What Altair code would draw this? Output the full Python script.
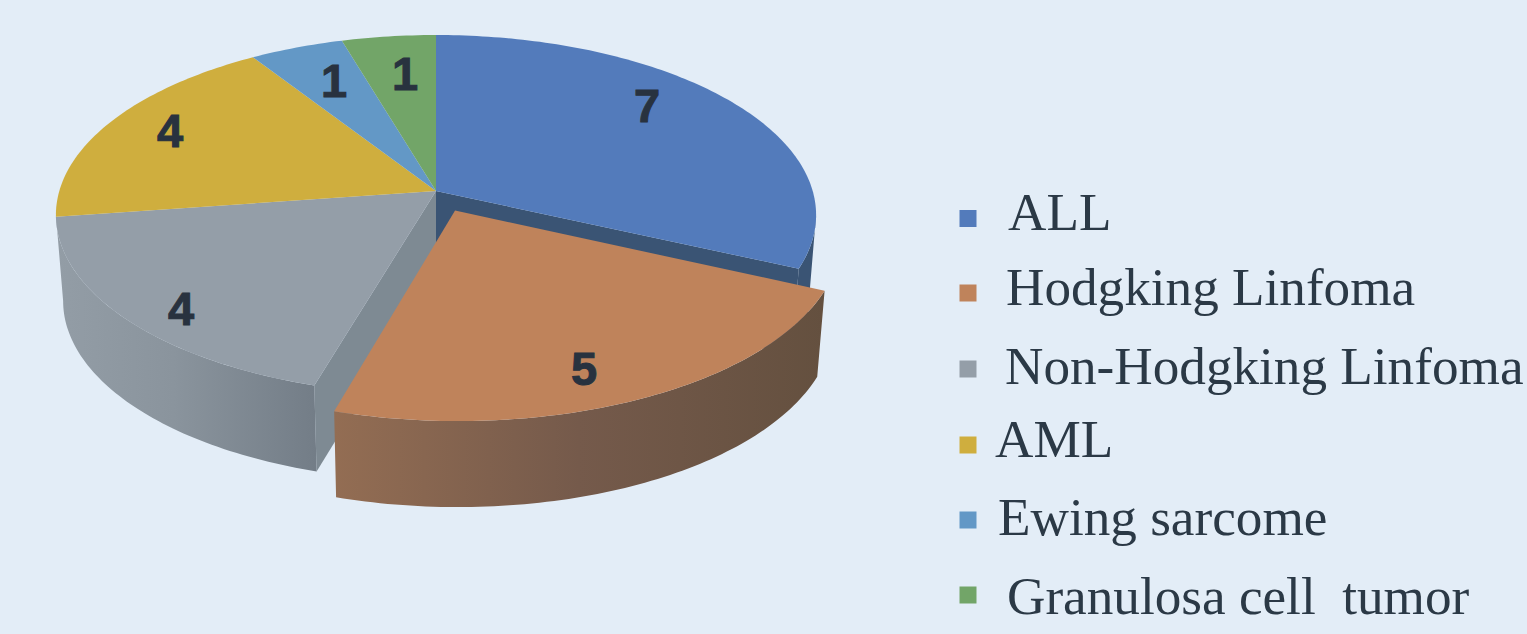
import math

import altair as alt
import pandas as pd

# Slice data
categories = ["ALL", "Hodgking Linfoma", "Non-Hodgking Linfoma", "AML", "Ewing sarcome", "Granulosa cell\u00a0 tumor"]
counts = [7, 5, 4, 4, 1, 1]
top_colors = ["#537BBB", "#BF835B", "#949EA8", "#CFAE3E", "#6398C6", "#72A568"]
pulled_out = [0, 0.12, 0, 0, 0, 0]

# Page layout
WIDTH, HEIGHT = 1527, 634
BACKGROUND = "#E3EDF7"
INK = "#2B3946"
VALUE_INK = "#28323F"

# Tilted-disc projection of the pie plane onto the page
CX, CY = 436, 191
RX = 376.7
TILT_A, TILT_C = -151.3, 0.1333
DEPTH = 86
DEPTH_SHRINK = 0.981

# Value label centres and legend rows on the page
value_label_x = [647, 584, 181, 170, 334, 405]
value_label_y = [108, 371, 311, 133, 83, 76]
legend_text_x = [1008, 1006, 1005, 995, 998, 1007]
legend_text_y = [230, 305, 384, 457, 535, 614]
legend_key_y = [218.5, 293, 369, 445, 520, 595]
LEGEND_KEY_X = 968

X_CHANNEL = alt.X("x:Q", scale=alt.Scale(domain=[0, WIDTH], nice=False, zero=False), axis=None)
Y_CHANNEL = alt.Y("y:Q", scale=alt.Scale(domain=[HEIGHT, 0], nice=False, zero=False), axis=None)

# Angles where the disc outline is widest; the side wall silhouette starts there
WIDEST_OFFSET = math.degrees(math.asin(TILT_C))
RIGHT_SILHOUETTE = 90 + WIDEST_OFFSET
LEFT_SILHOUETTE = 270 - WIDEST_OFFSET


def project(u, v, lower=False):
    den = TILT_C * v + 1
    x = RX * u / den
    y = (TILT_A * v + CY) / den
    if lower:
        return CX + x * DEPTH_SHRINK, y + DEPTH
    return CX + x, y


def rim(start, end, shift=(0.0, 0.0), lower=False, step=1.0):
    n = max(2, int(abs(end - start) / step) + 1)
    pts = []
    for i in range(n):
        a = math.radians(start + (end - start) * i / (n - 1))
        pts.append(project(math.sin(a) + shift[0], math.cos(a) + shift[1], lower))
    return pts


def polygon(points, fill):
    frame = pd.DataFrame(
        {"x": [p[0] for p in points], "y": [p[1] for p in points], "i": range(len(points))}
    )
    return (
        alt.Chart(frame)
        .mark_line(fill=fill, stroke="transparent", strokeWidth=0, interpolate="linear")
        .encode(x=X_CHANNEL, y=Y_CHANNEL, order="i:Q")
    )


def side_gradient(stops):
    return alt.Gradient(
        gradient="linear",
        x1=0, x2=1, y1=0, y2=0,
        stops=[alt.GradientStop(offset=o, color=c) for o, c in stops],
    )


total = sum(counts)
edges = [0.0]
for c in counts:
    edges.append(edges[-1] + 360.0 * c / total)

shifts = []
for k, d in enumerate(pulled_out):
    mid = math.radians((edges[k] + edges[k + 1]) / 2)
    shifts.append((d * math.sin(mid), d * math.cos(mid)))

layers = []

# Dark blue walls behind the pulled-out slice
a_end = math.radians(edges[1])
spoke = (math.sin(a_end), math.cos(a_end))
layers.append(polygon(
    [project(0, 0), project(*spoke), project(*spoke, lower=True), project(0, 0, lower=True)],
    "#3A5474",
))
layers.append(polygon(
    rim(RIGHT_SILHOUETTE, edges[1]) + rim(edges[1], RIGHT_SILHOUETTE, lower=True),
    "#3A5474",
))

# Inner wall of the grey slice
a_gray = math.radians(edges[2])
gray_spoke = (math.sin(a_gray), math.cos(a_gray))
layers.append(polygon(
    [project(0, 0), project(*gray_spoke), project(*gray_spoke, lower=True), project(0, 0, lower=True)],
    "#7E8A93",
))

# Outer wall of the grey slice
layers.append(polygon(
    rim(edges[2], LEFT_SILHOUETTE) + rim(LEFT_SILHOUETTE, edges[2], lower=True),
    side_gradient([(0, "#939DA6"), (0.45, "#8A949D"), (1, "#737D87")]),
))

# Flat tops of the slices that stay in place
for k in [0, 2, 3, 4, 5]:
    layers.append(polygon([project(0, 0)] + rim(edges[k], edges[k + 1]), top_colors[k]))

# Pulled-out slice: outer wall, then top
s = shifts[1]
layers.append(polygon(
    rim(edges[1], edges[2], s) + rim(edges[2], edges[1], s, lower=True),
    side_gradient([(0, "#936D53"), (0.5, "#755A4B"), (1, "#64503F")]),
))
layers.append(polygon([project(s[0], s[1])] + rim(edges[1], edges[2], s), top_colors[1]))

# Value labels
value_frame = pd.DataFrame({"x": value_label_x, "y": value_label_y, "count": counts})
layers.append(
    alt.Chart(value_frame)
    .mark_text(
        font="Liberation Sans", fontWeight="bold", fontSize=47,
        color=VALUE_INK, stroke=VALUE_INK, strokeWidth=1,
        baseline="middle", align="center",
    )
    .encode(x=X_CHANNEL, y=Y_CHANNEL, text="count:Q")
)

# Legend rows
key_frame = pd.DataFrame({"x": [LEGEND_KEY_X] * 6, "y": legend_key_y, "name": categories})
layers.append(
    alt.Chart(key_frame)
    .mark_square(size=289, opacity=1, strokeWidth=0)
    .encode(
        x=X_CHANNEL,
        y=Y_CHANNEL,
        color=alt.Color("name:N", scale=alt.Scale(domain=categories, range=top_colors), legend=None),
    )
)
text_frame = pd.DataFrame({"x": legend_text_x, "y": legend_text_y, "name": categories})
layers.append(
    alt.Chart(text_frame)
    .mark_text(font="Liberation Serif", fontSize=53.2, color=INK, align="left", baseline="alphabetic")
    .encode(x=X_CHANNEL, y=Y_CHANNEL, text="name:N")
)

chart = (
    alt.layer(*layers)
    .properties(
        width=WIDTH,
        height=HEIGHT,
        background=BACKGROUND,
        padding=0,
        autosize=alt.AutoSizeParams(type="none"),
    )
    .configure_view(strokeWidth=0)
)

chart.save("out.html", embed_options={"renderer": "svg", "actions": False})
